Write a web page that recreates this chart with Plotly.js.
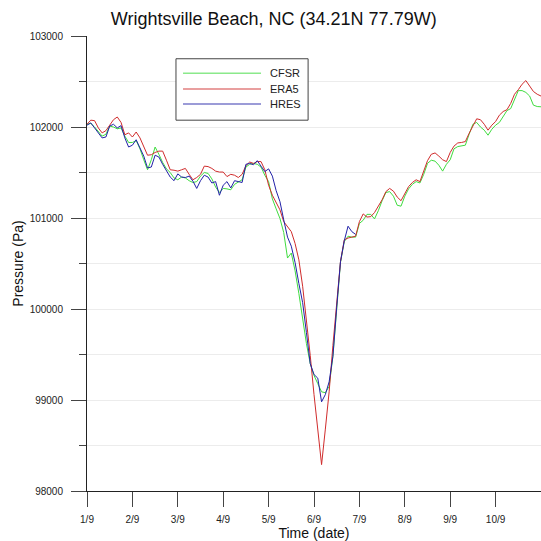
<!DOCTYPE html>
<html>
<head>
<meta charset="utf-8">
<script src="https://cdn.plot.ly/plotly-3.0.1.min.js"></script>
<style>
  html, body { margin: 0; padding: 0; background: #fff; }
  #chart { width: 541px; height: 541px; }
</style>
</head>
<body>
<div id="chart"></div>
<script>
// Surface pressure (Pa) at Wrightsville Beach, NC, 2-hourly from 1 Sep 2019 00 UTC
const startTime = Date.UTC(2019, 8, 1, 0, 0, 0);
const stepHours = 2;

const seriesNames = ['CFSR', 'ERA5', 'HRES'];

const cfsr = [
  102030, 102040, 102000, 101950, 101900, 101920, 102010, 102000, 101980, 101990,
  101900, 101830, 101830, 101850, 101760, 101640, 101530, 101640, 101780, 101700,
  101610, 101540, 101500, 101440, 101420, 101450, 101440, 101410, 101390, 101400,
  101460, 101500, 101490, 101430, 101340, 101280, 101325, 101320, 101310, 101370,
  101400, 101420, 101560, 101590, 101600, 101590, 101560, 101470, 101400, 101210,
  101100, 100995, 100840, 100560, 100615, 100420, 100170, 99880, 99620, 99400,
  99270, 99180, 99090, 99080, 99150, 99480, 100020, 100510, 100740, 100800,
  100790, 100790, 100940, 100975, 101040, 101040, 100990, 101080, 101190, 101280,
  101290, 101240, 101140, 101130, 101240, 101320, 101370, 101400, 101385, 101480,
  101600, 101635, 101625, 101580, 101515, 101590, 101640, 101760, 101785, 101790,
  101800, 101920, 102030, 102050, 102000, 101965, 101910, 101975, 102020, 102050,
  102120, 102180, 102203, 102300, 102400, 102400, 102380, 102340, 102240, 102225,
  102222
];

const era5 = [
  102030, 102075, 102070, 101990, 101935, 101960, 102020, 102080, 102110, 102050,
  101915, 101935, 101890, 101945, 101880, 101790, 101690, 101695, 101720, 101735,
  101735, 101635, 101530, 101525, 101515, 101530, 101545, 101480, 101420, 101445,
  101480, 101570, 101565, 101545, 101515, 101505, 101505, 101455, 101480, 101470,
  101445, 101480, 101575, 101615, 101600, 101620, 101620, 101530, 101360, 101250,
  101170, 101090, 100960, 100900, 100850, 100720, 100540, 100250, 99880, 99490,
  99060, 98640, 98290, 98680, 99090, 99600, 100020, 100520, 100760, 100780,
  100790, 100800, 100960, 101045, 101010, 101015, 101060, 101130, 101200, 101290,
  101325, 101295, 101230, 101190, 101265, 101345, 101390, 101420, 101400, 101510,
  101630, 101700, 101715, 101680, 101640, 101620, 101720, 101790, 101825, 101830,
  101840, 101930, 102010, 102090, 102080, 102030, 101965, 102020, 102060, 102130,
  102170, 102190, 102260, 102360, 102410, 102470, 102510, 102450, 102390, 102360,
  102340
];

const hres = [
  102020, 102045, 101990, 101930, 101880, 101890, 102010, 102030, 101990, 102015,
  101880, 101780, 101800, 101860, 101770, 101680, 101550, 101560, 101690, 101670,
  101590, 101520, 101450, 101410, 101485, 101450, 101445, 101460, 101405, 101325,
  101410, 101470, 101450, 101385, 101400, 101250, 101360, 101400, 101330, 101410,
  101400, 101390, 101590, 101600, 101585, 101630, 101570, 101510, 101540, 101460,
  101300, 101180, 100980, 100790, 100690, 100510, 100280, 100070, 99740, 99400,
  99280, 99240, 98980, 99060, 99200, 99480, 100020, 100520, 100750, 100910,
  100850, 100820
];

const dayTickLabels = ['1/9', '2/9', '3/9', '4/9', '5/9', '6/9', '7/9', '8/9', '9/9', '10/9'];
const pressureTicks = [98000, 99000, 100000, 101000, 102000, 103000];

const colors = { CFSR: '#3fdc3f', ERA5: '#d02c2c', HRES: '#2222a8' };

function pad(n) { return (n < 10 ? '0' : '') + n; }
function stamp(ms) {
  const d = new Date(ms);
  return d.getUTCFullYear() + '-' + pad(d.getUTCMonth() + 1) + '-' + pad(d.getUTCDate()) +
         ' ' + pad(d.getUTCHours()) + ':' + pad(d.getUTCMinutes());
}
function timesFor(values) {
  return values.map((_, i) => stamp(startTime + i * stepHours * 3600 * 1000));
}
const dayTickVals = dayTickLabels.map((_, i) => stamp(startTime + i * 86400000));

const seriesValues = { CFSR: cfsr, ERA5: era5, HRES: hres };
const traces = seriesNames.map(name => ({
  type: 'scatter',
  mode: 'lines',
  name: name,
  x: timesFor(seriesValues[name]),
  y: seriesValues[name],
  line: { color: colors[name], width: 1 },
  showlegend: false,
  hoverinfo: 'x+y+name'
}));

// Boxed key in the upper-left of the plot area
const key = { x0: 0.196, x1: 0.487, y0: 0.815, y1: 0.95, lineX0: 0.2115, lineX1: 0.3833, textX: 0.398, rows: [0.918, 0.8835, 0.8505] };
const shapes = [{
  type: 'rect', xref: 'paper', yref: 'paper',
  x0: key.x0, x1: key.x1, y0: key.y0, y1: key.y1,
  line: { color: '#444', width: 1 }, fillcolor: '#fff', layer: 'above'
}];
const annotations = [];
seriesNames.forEach((name, i) => {
  shapes.push({
    type: 'line', xref: 'paper', yref: 'paper',
    x0: key.lineX0, x1: key.lineX1, y0: key.rows[i], y1: key.rows[i],
    line: { color: colors[name], width: 1.4 }, opacity: 0.6, layer: 'above'
  });
  annotations.push({
    xref: 'paper', yref: 'paper', x: key.textX, y: key.rows[i],
    xanchor: 'left', yanchor: 'middle', showarrow: false,
    text: name, font: { family: 'Liberation Sans, Arial, sans-serif', size: 11, color: '#222' }
  });
});

const axisFont = { family: 'Liberation Sans, Arial, sans-serif', size: 10, color: '#222' };

const layout = {
  width: 541, height: 541,
  margin: { l: 87, r: 0, t: 36, b: 50 },
  paper_bgcolor: '#fff', plot_bgcolor: '#fff',
  title: {
    text: 'Wrightsville Beach, NC (34.21N 77.79W)',
    font: { family: 'Liberation Sans, Arial, sans-serif', size: 18, color: '#111' },
    x: 0.506, xanchor: 'center', y: 0.966, yanchor: 'middle', xref: 'container', yref: 'container'
  },
  xaxis: {
    type: 'date',
    range: [stamp(startTime), stamp(startTime + 10 * 86400000)],
    tickmode: 'array', tickvals: dayTickVals, ticktext: dayTickLabels,
    ticks: 'outside', ticklen: 15, tickcolor: '#444', tickwidth: 1,
    ticklabelstandoff: 4,
    showline: true, linecolor: '#222', linewidth: 1,
    showgrid: false, zeroline: false,
    tickfont: axisFont,
    title: { text: 'Time (date)', font: { family: 'Liberation Sans, Arial, sans-serif', size: 14, color: '#111' }, standoff: 2 },
    automargin: false
  },
  yaxis: {
    range: [98000, 103000],
    tickmode: 'array', tickvals: pressureTicks, tickformat: 'd',
    ticks: 'outside', ticklen: 15, tickcolor: '#444', tickwidth: 1,
    ticklabelstandoff: 6,
    showline: true, linecolor: '#222', linewidth: 1,
    showgrid: true, gridcolor: '#ececec', gridwidth: 1,
    minor: { dtick: 500, tick0: 98000, ticks: 'outside', ticklen: 7, tickcolor: '#444', showgrid: true, gridcolor: '#ececec', gridwidth: 1 },
    zeroline: false,
    tickfont: axisFont,
    title: { text: 'Pressure (Pa)', font: { family: 'Liberation Sans, Arial, sans-serif', size: 14, color: '#111' }, standoff: 2 },
    automargin: false
  },
  shapes: shapes,
  annotations: annotations,
  showlegend: false
};

Plotly.newPlot('chart', traces, layout, { displayModeBar: false, staticPlot: true });
</script>
</body>
</html>
